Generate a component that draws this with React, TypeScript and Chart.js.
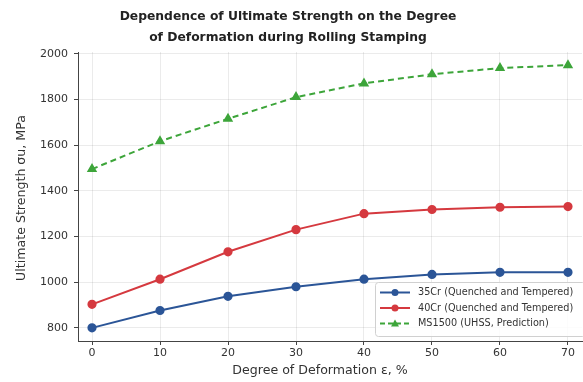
import React, { useEffect, useRef } from "react";
import { Chart, registerables } from "chart.js";

Chart.register(...registerables);

const xValues = [0, 10, 20, 30, 40, 50, 60, 70];
const cr35 = [800, 876, 938, 980, 1013, 1034, 1043, 1043];
const cr40 = [903, 1013, 1133, 1230, 1300, 1318, 1328, 1331];
const ms1500 = [1495, 1617, 1715, 1810, 1870, 1910, 1937, 1950];
const seriesNames = [
  "35Cr (Quenched and Tempered)",
  "40Cr (Quenched and Tempered)",
  "MS1500 (UHSS, Prediction)",
];
const titleLines = [
  "Dependence of Ultimate Strength on the Degree",
  "of Deformation during Rolling Stamping",
];
const xTitle = "Degree of Deformation ε, %";
const yTitle = "Ultimate Strength σu, MPa";

const BLUE = "#2b5597";
const RED = "#d5393f";
const GREEN = "#3da53a";
const FONT = "'DejaVu Sans', sans-serif";

const toPts = (vals: number[]) => vals.map((y, i) => ({ x: xValues[i], y }));

const textPlugin = {
  id: "customText",
  afterDraw(chart: any) {
    const ctx = chart.ctx;
    ctx.save();
    ctx.fillStyle = "#222";
    ctx.font = `bold 12.3px ${FONT}`;
    ctx.textAlign = "center";
    ctx.textBaseline = "middle";
    ctx.fillText(titleLines[0], 288, 17);
    ctx.fillText(titleLines[1], 288, 38);
    ctx.fillStyle = "#333";
    ctx.font = `12.6px ${FONT}`;
    ctx.fillText(xTitle, 320, 371);
    ctx.translate(22, 198);
    ctx.rotate(-Math.PI / 2);
    ctx.fillText(yTitle, 0, 0);
    ctx.restore();
  },
};

const legendPlugin = {
  id: "customLegend",
  afterDraw(chart: any) {
    const ctx = chart.ctx;
    const w = 210;
    const h = 54;
    const x0 = 375;
    const y0 = 282;
    ctx.save();
    ctx.fillStyle = "rgba(255,255,255,0.85)";
    ctx.strokeStyle = "#d0d0d0";
    ctx.lineWidth = 1;
    ctx.beginPath();
    ctx.roundRect(x0 + 0.5, y0 + 0.5, w, h, 3);
    ctx.fill();
    ctx.stroke();
    const colors = [BLUE, RED, GREEN];
    const dashed = [false, false, true];
    const marks = ["circle", "circle", "triangle"];
    ctx.font = `9.7px ${FONT}`;
    ctx.textBaseline = "middle";
    for (let i = 0; i < 3; i++) {
      const cy = y0 + 10.5 + i * 15.5;
      const lx = x0 + 5;
      ctx.strokeStyle = colors[i];
      ctx.lineWidth = 2;
      ctx.setLineDash(dashed[i] ? [5, 3] : []);
      ctx.beginPath();
      ctx.moveTo(lx, cy);
      ctx.lineTo(lx + 30, cy);
      ctx.stroke();
      ctx.setLineDash([]);
      ctx.fillStyle = colors[i];
      ctx.beginPath();
      if (marks[i] === "circle") {
        ctx.arc(lx + 15, cy, 3.5, 0, Math.PI * 2);
      } else {
        ctx.moveTo(lx + 15, cy - 4);
        ctx.lineTo(lx + 19, cy + 3);
        ctx.lineTo(lx + 11, cy + 3);
        ctx.closePath();
      }
      ctx.fill();
      ctx.fillStyle = "#333";
      ctx.fillText(seriesNames[i], lx + 38, cy);
    }
    ctx.restore();
  },
};

export default function App() {
  const ref = useRef<HTMLCanvasElement | null>(null);
  useEffect(() => {
    if (!ref.current) return;
    const chart = new Chart(ref.current, {
      type: "line",
      data: {
        datasets: [
          {
            label: seriesNames[0],
            data: toPts(cr35),
            borderColor: BLUE,
            backgroundColor: BLUE,
            borderWidth: 2,
            pointRadius: 3.6,
            pointStyle: "circle",
          },
          {
            label: seriesNames[1],
            data: toPts(cr40),
            borderColor: RED,
            backgroundColor: RED,
            borderWidth: 2,
            pointRadius: 3.6,
            pointStyle: "circle",
          },
          {
            label: seriesNames[2],
            data: toPts(ms1500),
            borderColor: GREEN,
            backgroundColor: GREEN,
            borderWidth: 2,
            borderDash: [6, 4],
            pointRadius: 4,
            pointStyle: "triangle",
          },
        ],
      },
      options: {
        responsive: false,
        animation: false,
        layout: { autoPadding: false, padding: { top: 52, right: 1, left: 0, bottom: 0 } },
        plugins: {
          legend: { display: false },
          title: { display: false },
          tooltip: { enabled: false },
        },
        scales: {
          x: {
            type: "linear",
            min: -2.06,
            max: 72.06,
            afterFit: (s: any) => {
              s.height = 41;
              s.paddingRight = 0;
              s.paddingLeft = 0;
            },
            ticks: {
              stepSize: 10,
              includeBounds: false,
              color: "#333",
              font: { family: FONT, size: 11 },
              padding: 2,
              callback: (v: any) => String(v),
            },
            grid: {
              color: "rgba(0,0,0,0.08)",
              tickColor: "#444",
              tickLength: 4,
            },
            border: { color: "#444", width: 1 },
          },
          y: {
            type: "linear",
            min: 742.5,
            max: 2007.5,
            afterFit: (s: any) => {
              s.width = 78;
              s.paddingTop = 0;
              s.paddingBottom = 0;
            },
            ticks: {
              stepSize: 200,
              includeBounds: false,
              color: "#333",
              font: { family: FONT, size: 11 },
              padding: 6,
              callback: (v: any) => String(v),
            },
            grid: {
              color: "rgba(0,0,0,0.08)",
              tickColor: "#444",
              tickLength: 4,
            },
            border: { color: "#444", width: 1 },
          },
        },
      },
      plugins: [textPlugin, legendPlugin],
    });
    return () => chart.destroy();
  }, []);
  return (
    <div style={{ position: "fixed", left: 0, top: 0, width: 583, height: 382, background: "#fff" }}>
      <canvas ref={ref} width={583} height={382} style={{ width: 583, height: 382, display: "block" }} />
    </div>
  );
}
